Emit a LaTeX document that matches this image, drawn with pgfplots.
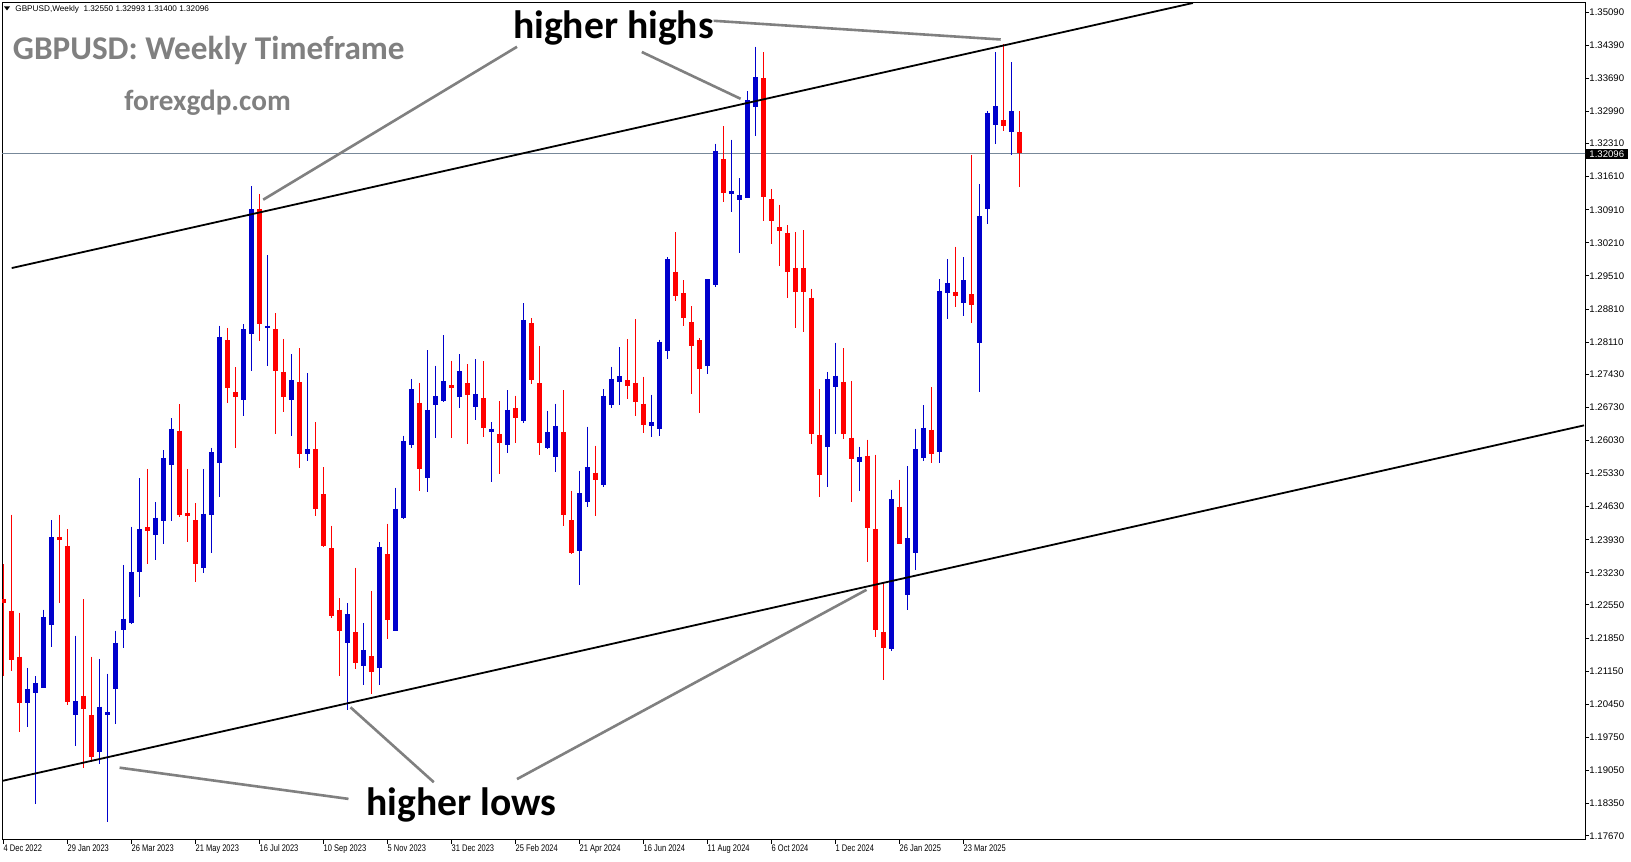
\documentclass[border=0pt]{standalone}
\usepackage{fontspec}
\setmainfont{Liberation Sans}
\newfontfamily\carlito{Carlito}
\newfontfamily\narrowfont{Liberation Sans}[FakeStretch=0.78]
\usepackage{pgfplots}
\usepackage{pgfplotstable}
\pgfplotsset{compat=1.18}
\definecolor{bull}{RGB}{0,0,204}
\definecolor{bear}{RGB}{255,0,0}
\definecolor{annot}{RGB}{128,128,128}
\definecolor{pline}{RGB}{119,136,153}

% week index k (0 = week of 4 Dec 2022), open, high, low, close
\pgfplotstableread{
k O H L C
3 1.2047 1.2122 1.1998 1.2078
4 1.2068 1.2104 1.1835 1.2089
5 1.2079 1.2245 1.2079 1.2230
6 1.2213 1.2434 1.2166 1.2398
9 1.2023 1.2190 1.1956 1.2051
12 1.1945 1.2141 1.1919 1.2040
13 1.2023 1.2110 1.1796 1.2029
14 1.2077 1.2201 1.2004 1.2175
15 1.2203 1.2340 1.2163 1.2226
16 1.2217 1.2421 1.2215 1.2325
17 1.2324 1.2523 1.2271 1.2415
19 1.2403 1.2472 1.2350 1.2440
20 1.2433 1.2582 1.2384 1.2565
21 1.2551 1.2650 1.2433 1.2628
25 1.2333 1.2543 1.2323 1.2448
26 1.2446 1.2588 1.2365 1.2578
27 1.2556 1.2846 1.2483 1.2821
30 1.2689 1.2849 1.2655 1.2838
31 1.2829 1.3141 1.2749 1.3092
33 1.2841 1.2995 1.2761 1.2846
36 1.2689 1.2785 1.2613 1.2730
38 1.2574 1.2745 1.2560 1.2584
43 1.2175 1.2259 1.2032 1.2235
45 1.2125 1.2217 1.2085 1.2160
47 1.2121 1.2388 1.2085 1.2377
49 1.2201 1.2503 1.2201 1.2459
50 1.2439 1.2613 1.2436 1.2601
51 1.2593 1.2733 1.2586 1.2711
53 1.2524 1.2794 1.2495 1.2668
54 1.2679 1.2761 1.2609 1.2696
55 1.2687 1.2826 1.2684 1.2728
57 1.2695 1.2785 1.2672 1.2749
59 1.2674 1.2775 1.2647 1.2701
61 1.2620 1.2641 1.2516 1.2628
63 1.2593 1.2709 1.2576 1.2668
65 1.2645 1.2893 1.2640 1.2858
68 1.2587 1.2666 1.2584 1.2620
69 1.2568 1.2681 1.2536 1.2634
72 1.2369 1.2539 1.2297 1.2491
73 1.2472 1.2632 1.2463 1.2546
75 1.2509 1.2711 1.2504 1.2698
76 1.2678 1.2759 1.2671 1.2734
77 1.2726 1.2800 1.2678 1.2739
81 1.2634 1.2700 1.2611 1.2641
82 1.2627 1.2816 1.2613 1.2812
83 1.2793 1.2990 1.2776 1.2986
88 1.2760 1.2944 1.2743 1.2944
89 1.2932 1.3231 1.2928 1.3215
91 1.3124 1.3239 1.3086 1.3130
92 1.3112 1.3158 1.2999 1.3122
93 1.3116 1.3341 1.3116 1.3322
94 1.3309 1.3436 1.3247 1.3371
103 1.2589 1.2748 1.2504 1.2732
104 1.2716 1.2810 1.2616 1.2740
107 1.2558 1.2590 1.2497 1.2569
111 1.2161 1.2499 1.2157 1.2479
113 1.2277 1.2548 1.2245 1.2397
114 1.2366 1.2628 1.2329 1.2584
115 1.2565 1.2677 1.2560 1.2630
117 1.2578 1.2944 1.2555 1.2920
118 1.2915 1.2986 1.2860 1.2935
120 1.2894 1.2990 1.2867 1.2942
122 1.2809 1.3145 1.2705 1.3077
123 1.3092 1.3300 1.3061 1.3295
124 1.3271 1.3424 1.3231 1.3310
126 1.3255 1.3403 1.3207 1.3300
}\bluedata

\pgfplotstableread{
k O H L C
0 1.2267 1.2341 1.2104 1.2259
1 1.2243 1.2446 1.2115 1.2138
2 1.2146 1.2239 1.1987 1.2047
7 1.2398 1.2446 1.2259 1.2393
8 1.2380 1.2415 1.2043 1.2050
10 1.2063 1.2267 1.1911 1.2036
11 1.2022 1.2146 1.1922 1.1934
18 1.2419 1.2543 1.2341 1.2411
22 1.2624 1.2680 1.2441 1.2446
23 1.2450 1.2543 1.2388 1.2443
24 1.2434 1.2470 1.2303 1.2341
28 1.2815 1.2841 1.2682 1.2714
29 1.2705 1.2758 1.2587 1.2695
32 1.3092 1.3124 1.2814 1.2850
34 1.2838 1.2872 1.2616 1.2749
35 1.2748 1.2818 1.2663 1.2695
37 1.2726 1.2798 1.2544 1.2574
39 1.2584 1.2641 1.2444 1.2458
40 1.2489 1.2546 1.2377 1.2379
41 1.2375 1.2423 1.2228 1.2231
42 1.2245 1.2269 1.2105 1.2200
44 1.2197 1.2334 1.2119 1.2133
46 1.2147 1.2285 1.2066 1.2113
48 1.2363 1.2427 1.2183 1.2223
52 1.2683 1.2725 1.2497 1.2543
56 1.2720 1.2772 1.2608 1.2714
58 1.2724 1.2764 1.2595 1.2699
60 1.2692 1.2771 1.2610 1.2629
62 1.2616 1.2686 1.2532 1.2597
64 1.2671 1.2698 1.2597 1.2651
66 1.2851 1.2861 1.2723 1.2731
67 1.2724 1.2803 1.2572 1.2597
70 1.2620 1.2709 1.2423 1.2445
71 1.2434 1.2497 1.2362 1.2365
74 1.2535 1.2592 1.2443 1.2519
78 1.2730 1.2817 1.2690 1.2718
79 1.2725 1.2859 1.2655 1.2684
80 1.2681 1.2738 1.2619 1.2635
84 1.2960 1.3043 1.2898 1.2909
85 1.2914 1.2942 1.2845 1.2862
86 1.2853 1.2887 1.2702 1.2803
87 1.2815 1.2820 1.2661 1.2754
90 1.3198 1.3267 1.3108 1.3127
95 1.3369 1.3424 1.3068 1.3118
96 1.3113 1.3135 1.3019 1.3068
97 1.3054 1.3102 1.2972 1.3046
98 1.3041 1.3058 1.2905 1.2960
99 1.2968 1.3043 1.2841 1.2918
100 1.2967 1.3048 1.2833 1.2918
101 1.2905 1.2924 1.2595 1.2616
102 1.2614 1.2712 1.2483 1.2530
105 1.2727 1.2798 1.2606 1.2616
106 1.2609 1.2728 1.2472 1.2563
108 1.2571 1.2605 1.2346 1.2417
109 1.2416 1.2573 1.2188 1.2202
110 1.2198 1.2301 1.2096 1.2165
112 1.2463 1.2520 1.2383 1.2384
116 1.2626 1.2716 1.2555 1.2574
119 1.2918 1.3013 1.2886 1.2909
121 1.2912 1.3207 1.2851 1.2890
125 1.3280 1.3441 1.3257 1.3269
127 1.3255 1.3299 1.3140 1.3210
}\reddata

\begin{document}
\begin{tikzpicture}
\useasboundingbox (0,0) rectangle (815.5pt,430.5pt);
\fill[white] (0,0) rectangle (815.5pt,430.5pt);
\begin{axis}[
  at={(1pt,10.5pt)}, anchor=south west,
  width=791.5pt, height=418.5pt, scale only axis,
  xmin=-0.1625, xmax=197.71, ymin=1.17580, ymax=1.35282,
  axis line style={black, line width=0.5pt},
  every tick/.style={black, line width=0.5pt},
  tick align=outside, major tick length=2pt,
  ytick pos=right, yticklabel pos=right,
  xtick pos=left,
  ytick={1.17670,1.18350,1.19050,1.19750,1.20450,1.21150,1.21850,1.22550,1.23230,1.23930,1.24630,1.25330,1.26030,1.26730,1.27430,1.28110,1.28810,1.29510,1.30210,1.30910,1.31610,1.32310,1.32990,1.33690,1.34390,1.35090},
  yticklabels={1.17670,1.18350,1.19050,1.19750,1.20450,1.21150,1.21850,1.22550,1.23230,1.23930,1.24630,1.25330,1.26030,1.26730,1.27430,1.28110,1.28810,1.29510,1.30210,1.30910,1.31610,1.32310,1.32990,1.33690,1.34390,1.35090},
  xtick={0,8,16,24,32,40,48,56,64,72,80,88,96,104,112,120},
  xticklabels={4 Dec 2022,29 Jan 2023,26 Mar 2023,21 May 2023,16 Jul 2023,10 Sep 2023,5 Nov 2023,31 Dec 2023,25 Feb 2024,21 Apr 2024,16 Jun 2024,11 Aug 2024,6 Oct 2024,1 Dec 2024,26 Jan 2025,23 Mar 2025},
  yticklabel style={anchor=west, inner sep=0pt, font=\fontsize{4.8pt}{5pt}\selectfont},
  xticklabel style={anchor=north west, inner sep=0pt, font=\narrowfont\fontsize{4.8pt}{5pt}\selectfont},
  clip=true,
  candle/.style={draw=none, mark=none, error bars/.cd, y dir=both, y explicit, error mark=none},
]
\addplot[pline, line width=0.5pt] coordinates {(-1,1.32096) (200,1.32096)};
% blue wicks and bodies
\addplot[candle, error bar style={draw=bull, line width=0.5pt}]
  table[x=k, y=H, y error plus expr=0, y error minus expr={\thisrow{H}-\thisrow{L}}] {\bluedata};
\addplot[candle, error bar style={draw=bull, line width=2.5pt}]
  table[x=k, y expr={max(\thisrow{O},\thisrow{C})}, y error plus expr=0, y error minus expr={abs(\thisrow{O}-\thisrow{C})}] {\bluedata};
% red wicks and bodies
\addplot[candle, error bar style={draw=bear, line width=0.5pt}]
  table[x=k, y=H, y error plus expr=0, y error minus expr={\thisrow{H}-\thisrow{L}}] {\reddata};
\addplot[candle, error bar style={draw=bear, line width=2.5pt}]
  table[x=k, y expr={max(\thisrow{O},\thisrow{C})}, y error plus expr=0, y error minus expr={abs(\thisrow{O}-\thisrow{C})}] {\reddata};
% channel lines
\addplot[black, line width=0.9pt] coordinates {(1.05,1.29676) (148.7,1.35282)};
\addplot[black, line width=0.9pt] coordinates {(-0.075,1.18832) (197.59,1.26349)};
\end{axis}
\begin{scope}[shift={(0pt,430.5pt)}, x=0.5pt, y=-0.5pt]
  \draw[annot, line width=1.3pt] (517,46.8) -- (263.2,199.7);
  \draw[annot, line width=1.3pt] (641.8,52) -- (740.6,98.8);
  \draw[annot, line width=1.3pt] (713.6,20.8) -- (1000.7,39.5);
  \draw[annot, line width=1.3pt] (348.5,798.9) -- (119.6,767.7);
  \draw[annot, line width=1.3pt] (433.8,782.2) -- (350.5,707.3);
  \draw[annot, line width=1.3pt] (517,779.1) -- (866.5,589.8);
  \node[anchor=base west, inner sep=0pt, font=\carlito\bfseries\fontsize{19.8pt}{22pt}\selectfont] at (512.8,39) {higher highs};
  \node[anchor=base west, inner sep=0pt, font=\carlito\bfseries\fontsize{19.8pt}{22pt}\selectfont] at (366,816) {higher lows};
  \node[anchor=base west, inner sep=0pt, text=annot, font=\carlito\bfseries\fontsize{16.6pt}{18pt}\selectfont] at (12.5,60) {GBPUSD: Weekly Timeframe};
  \node[anchor=base west, inner sep=0pt, text=annot, font=\carlito\bfseries\fontsize{14.6pt}{16pt}\selectfont] at (124,111) {forexgdp.com};
  \fill[black] (4,6.5) -- (10,6.5) -- (7,10.5) -- cycle;
  \node[anchor=base west, inner sep=0pt, font=\fontsize{4.1pt}{5pt}\selectfont] at (15,12) {GBPUSD,Weekly\ \ 1.32550 1.32993 1.31400 1.32096};
  \fill[black] (1586,149) rectangle (1628,159);
  \node[anchor=west, inner sep=0pt, text=white, font=\fontsize{4.8pt}{5pt}\selectfont] at (1589,154) {1.32096};
\end{scope}
\end{tikzpicture}
\end{document}
